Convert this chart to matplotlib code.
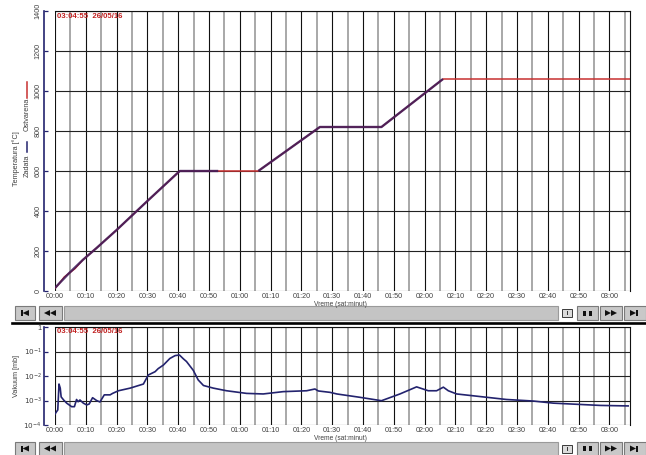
import matplotlib
matplotlib.use("Agg")
import matplotlib.pyplot as plt
import matplotlib.transforms as mtransforms
from matplotlib.patches import Rectangle, Polygon
from matplotlib.lines import Line2D
from matplotlib.ticker import MultipleLocator, FixedLocator, NullLocator, FuncFormatter
import numpy as np

plt.rcParams['font.family'] = ['Liberation Sans Narrow', 'Liberation Sans', 'DejaVu Sans']

# temperature (minutes from start, degC)
t_ost = [0, 0.5, 1.5, 3, 4.5, 6.5, 9, 13.5, 20, 30, 40.5, 53, 66, 76, 86, 96, 106, 116, 126, 140, 160, 186.7]
temp_ost = [15, 22, 40, 70, 88, 112, 155, 215, 305, 450, 600, 600, 600, 710, 820, 820, 820, 940, 1060, 1060, 1060, 1060]
t_zad = [0, 1.5, 4.5, 9, 13.5, 20, 30, 40.5, 53, np.nan, 66, 86, 106, 126]
temp_zad = [15, 40, 88, 155, 215, 305, 450, 600, 600, np.nan, 600, 820, 820, 1060]

# vacuum (minutes, mbar)
t_vak = [0, 0.5, 0.9, 1.3, 1.7, 2.0, 2.8, 3.8, 5.4, 6.3, 7.0, 7.5, 8.1, 9.2, 10.3, 11.1, 12.2, 13.5, 14.6,
         16.0, 17.9, 18.7, 20.6, 24.4, 28.7, 30.3, 32.5, 33.5, 35.2, 37.3, 39.0, 40.4, 41.7, 42.7, 44.9,
         46.5, 48.2, 51.4, 55.7, 62.2, 67.6, 74.1, 81.7, 84.4, 85.5, 89.3, 91.5, 99, 106, 112, 117.4,
         121.2, 123.9, 126.1, 127.7, 130.4, 138, 146.6, 155.3, 161.8, 170.5, 177, 186.1]
vakuum = [2.8e-4, 3.5e-4, 4.1e-4, 4.7e-3, 3.2e-3, 1.4e-3, 1.05e-3, 7.8e-4, 5.6e-4, 5.6e-4, 1.1e-3, 8.9e-4,
          1.05e-3, 7.8e-4, 6.6e-4, 7.2e-4, 1.3e-3, 1.0e-3, 8.7e-4, 1.7e-3, 1.7e-3, 1.95e-3, 2.5e-3, 3.2e-3,
          4.7e-3, 1.1e-2, 1.5e-2, 2.0e-2, 2.8e-2, 5.2e-2, 6.8e-2, 7.2e-2, 5.0e-2, 3.9e-2, 1.7e-2, 6.9e-3,
          4.1e-3, 3.2e-3, 2.5e-3, 1.95e-3, 1.85e-3, 2.3e-3, 2.5e-3, 2.95e-3, 2.45e-3, 2.15e-3, 1.85e-3,
          1.35e-3, 9.8e-4, 1.85e-3, 3.6e-3, 2.5e-3, 2.5e-3, 3.5e-3, 2.5e-3, 1.85e-3, 1.45e-3, 1.1e-3,
          9.5e-4, 7.8e-4, 6.9e-4, 6.3e-4, 6.0e-4]

timestamp = "03:04:55  26/05/16"
x_end = 186.7

W, H = 646, 455
fig = plt.figure(figsize=(W / 100, H / 100), dpi=100)
fig.patch.set_facecolor('white')
px = mtransforms.Affine2D().scale(1 / W, -1 / H).translate(0, 1) + fig.transFigure

NAVY = '#23236e'
RED = '#c83030'
TXT = '#404040'
FS = 5.2


def setup_axes(ax):
    ax.set_xlim(0, x_end)
    ax.xaxis.set_major_locator(MultipleLocator(10))
    ax.xaxis.set_minor_locator(MultipleLocator(5))
    ax.xaxis.set_major_formatter(FuncFormatter(lambda v, p: "%02d:%02d" % (int(v) // 60, int(v) % 60)))
    ax.grid(which='major', axis='x', color='#111111', lw=0.8)
    ax.grid(which='minor', axis='x', color='#a8a8a8', lw=1.4)
    ax.grid(which='major', axis='y', color='#222222', lw=0.8)
    ax.set_axisbelow(True)
    ax.tick_params(axis='x', which='both', length=0, pad=1.5, labelsize=FS, labelcolor=TXT)
    ax.tick_params(axis='y', which='major', direction='in', length=3, width=0.9, color=NAVY,
                   labelsize=FS, labelcolor=TXT, pad=1.5)
    ax.spines['left'].set_position(('outward', 8))
    ax.spines['left'].set_color(NAVY)
    ax.spines['left'].set_linewidth(1.2)
    ax.spines['bottom'].set_visible(False)
    for s in ('top', 'right'):
        ax.spines[s].set_color('#111111')
        ax.spines[s].set_linewidth(0.8)
    ax.text(0.004, 0.992, timestamp, transform=ax.transAxes, ha='left', va='top',
            color='#c02020', fontsize=5.6, fontweight='bold', family=['Liberation Sans'])


def toolbar(y0):
    h = 14
    def box(x, w, fc='#c8c8c8', ec='#7a7a7a'):
        fig.patches.append(Rectangle((x, y0), w, h, transform=px, facecolor=fc, edgecolor=ec, lw=0.8))
    def tri(pts):
        fig.patches.append(Polygon([(a, y0 + b) for a, b in pts], closed=True, transform=px,
                                   facecolor='#101010', edgecolor='none'))
    box(15, 20)
    box(39, 23)
    box(64, 494, fc='#c4c4c4', ec='#9a9a9a')
    box(577, 21)
    box(600, 22)
    box(624, 22)
    fig.patches.append(Rectangle((562, y0 + 3), 10, 8, transform=px, facecolor='#dcdcdc',
                                 edgecolor='#3a3a3a', lw=0.7))
    fig.patches.append(Rectangle((566.5, y0 + 5), 1, 4, transform=px, facecolor='#3a3a3a', edgecolor='none'))
    # |<
    tri([(21, 4), (22.6, 4), (22.6, 10), (21, 10)])
    tri([(22.6, 7), (29, 4), (29, 10)])
    # <<
    tri([(44, 7), (50, 4), (50, 10)])
    tri([(50, 7), (56, 4), (56, 10)])
    # ||
    tri([(583, 4.5), (586, 4.5), (586, 9.5), (583, 9.5)])
    tri([(589, 4.5), (592, 4.5), (592, 9.5), (589, 9.5)])
    # >>
    tri([(605, 4), (611, 7), (605, 10)])
    tri([(611, 4), (617, 7), (611, 10)])
    # >|
    tri([(630, 4), (636, 7), (630, 10)])
    tri([(636, 4), (637.6, 4), (637.6, 10), (636, 10)])


# ---- top panel: temperature
ax1 = fig.add_axes([55 / W, 1 - 291 / H, 575 / W, 280 / H])
setup_axes(ax1)
ax1.set_ylim(0, 1400)
ax1.yaxis.set_major_locator(MultipleLocator(200))
for lab in ax1.get_yticklabels():
    lab.set_rotation(90)
    lab.set_va('center')
ax1.plot(t_ost, temp_ost, color=RED, lw=1.1)
ax1.plot(t_zad, temp_zad, color='#3c1a5a', lw=1.7, alpha=0.85, solid_capstyle='butt')

fig.text(16 / W, 1 - 159 / H, "Temperatura [°C]", rotation=90, ha='center', va='center', fontsize=FS, color=TXT)
fig.text(27 / W, 1 - 166 / H, "Zadata", rotation=90, ha='center', va='center', fontsize=FS, color=TXT)
fig.text(27 / W, 1 - 114 / H, "Ostvarena", rotation=90, ha='center', va='center', fontsize=FS, color=TXT)
fig.add_artist(Line2D([27, 27], [152, 142], transform=px, color=NAVY, lw=1.1))
fig.add_artist(Line2D([27, 27], [98, 82], transform=px, color=RED, lw=1.1))
fig.text(340 / W, 1 - 304 / H, "Vreme (sat:minut)", ha='center', va='center', fontsize=4.8, color=TXT)

toolbar(306)
fig.add_artist(Line2D([12, 646], [323, 323], transform=px, color='black', lw=1.9))

# ---- bottom panel: vacuum
ax2 = fig.add_axes([55 / W, 1 - 425 / H, 575 / W, 98 / H])
setup_axes(ax2)
ax2.set_yscale('log')
ax2.set_ylim(1e-4, 1)
ax2.yaxis.set_major_locator(FixedLocator([1e-4, 1e-3, 1e-2, 1e-1, 1]))
ax2.yaxis.set_minor_locator(NullLocator())
ax2.yaxis.set_major_formatter(FuncFormatter(lambda v, p: "1" if v >= 1 else r"$10^{%d}$" % round(np.log10(v))))
ax2.plot(t_vak, vakuum, color=NAVY, lw=1.2)

fig.text(16 / W, 1 - 376 / H, "Vakuum [mb]", rotation=90, ha='center', va='center', fontsize=FS, color=TXT)
fig.text(340 / W, 1 - 438.5 / H, "Vreme (sat:minut)", ha='center', va='center', fontsize=4.8, color=TXT)

toolbar(441.5)

fig.savefig("out.png", dpi=100, facecolor='white')
